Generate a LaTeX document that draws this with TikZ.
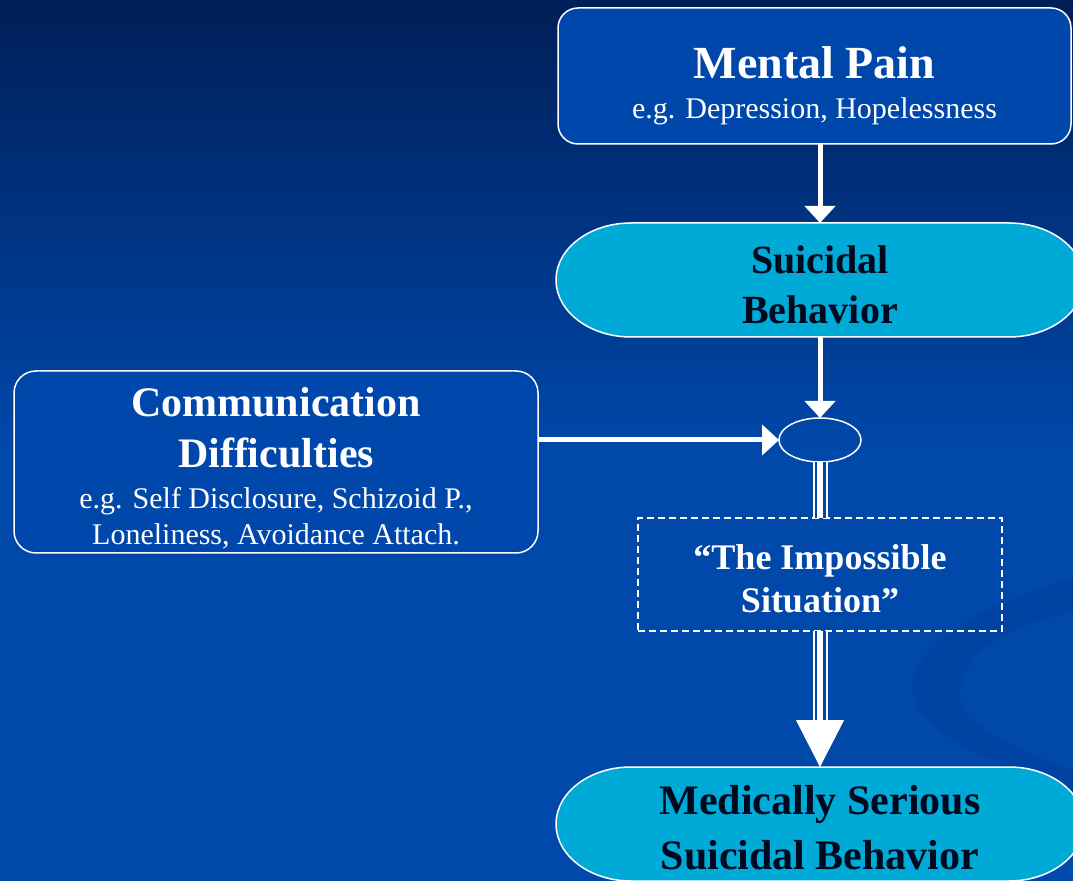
\documentclass[tikz,border=0pt]{standalone}
\usepackage{fontspec}
\setmainfont{Liberation Serif}
\usetikzlibrary{arrows.meta,shapes.geometric,backgrounds}

\definecolor{bgtop}{RGB}{0,30,88}
\definecolor{bgbot}{RGB}{0,72,170}
\definecolor{boxblue}{RGB}{0,71,171}
\definecolor{ovalcyan}{RGB}{0,170,214}
\definecolor{swirl}{RGB}{0,60,150}
\definecolor{ink}{RGB}{0,8,30}

\tikzset{
  box/.style={rectangle, draw=white, line width=1.5pt, fill=boxblue, text=white, align=center, inner sep=0pt, outer sep=0pt},
  oval/.style={rectangle, minimum width=528pt, minimum height=114pt, text=ink, align=center, inner sep=0pt, outer sep=0pt},
  ovalline/.style={draw=white, line width=1.5pt, fill=ovalcyan},
  dashbox/.style={rectangle, draw=white, line width=1.5pt, dash pattern=on 7pt off 4pt, text=white, align=center, minimum width=364pt, minimum height=113pt, inner sep=0pt, outer sep=0pt},
  arr/.style={draw=white, line width=5pt, -{Triangle[length=17pt,width=30pt]}},
  triple/.style={draw=white, line width=15pt, postaction={draw=boxblue, line width=11pt}, postaction={draw=white, line width=6pt}},
  bigarr/.style={draw=white, line width=1pt, -{Triangle[length=47pt,width=48pt]}}
}

\begin{document}
\begin{tikzpicture}[x=1pt,y=1pt]

	\useasboundingbox (0,0) rectangle (1073,881);
	
	% background
	\begin{scope}[on background layer]
		\shade[top color=bgtop, bottom color=bgbot] (0,431) rectangle (1073,881);
		\fill[bgbot] (0,0) rectangle (1073,431);
		\fill[swirl, opacity=0.35] (1073,303) .. controls (960,271) and (900,221) .. (915,181) .. controls (930,141) and (1000,116) .. (1073,91) -- (1073,111) .. controls (1000,136) and (955,161) .. (960,191) .. controls (965,231) and (1010,256) .. (1073,269) -- cycle;
	\end{scope}
	
	\node[box, rounded corners=20pt, minimum width=513pt, minimum height=136pt, font=\fontsize{30}{40}\selectfont] (pain) at (814.5,805) {\rule{0pt}{51pt}{\fontsize{46}{40}\selectfont\bfseries Mental Pain}\\e.g. Depression, Hopelessness};
	\node[oval, font=\fontsize{40}{50}\selectfont\bfseries] (sb) at (820,601) {\rule{0pt}{37pt}Suicidal\\Behavior};
	\node[ellipse, draw=white, line width=1.5pt, minimum width=82pt, minimum height=44pt, inner sep=0pt, outer sep=0pt] (ell) at (820,441) {};
	\node[box, rounded corners=22pt, minimum width=524pt, minimum height=182pt, font=\fontsize{30}{36}\selectfont] (comm) at (276,419) {\rule{0pt}{41pt}{\fontsize{42}{36}\selectfont\bfseries Communication}\\[15pt]{\fontsize{42}{36}\selectfont\bfseries Difficulties}\\[5pt]e.g. Self Disclosure, Schizoid P.,\\Loneliness, Avoidance Attach.};
	\node[dashbox, font=\fontsize{36}{43}\selectfont\bfseries] (imp) at (820,306.5) {\rule{0pt}{33pt}“The Impossible\\Situation”};
	\node[oval, font=\fontsize{42}{55}\selectfont\bfseries] (ms) at (820,57) {\rule{0pt}{37pt}Medically Serious\\Suicidal Behavior};
	
	\begin{scope}[on background layer]
		\draw[ovalline] ([xshift=75pt]sb.north west) -- ([xshift=-75pt]sb.north east) arc[start angle=90, end angle=-90, x radius=75, y radius=57] -- ([xshift=75pt]sb.south west) arc[start angle=270, end angle=90, x radius=75, y radius=57] -- cycle;
		\draw[ovalline] ([xshift=75pt]ms.north west) -- ([xshift=-75pt]ms.north east) arc[start angle=90, end angle=-90, x radius=75, y radius=57] -- ([xshift=75pt]ms.south west) arc[start angle=270, end angle=90, x radius=75, y radius=57] -- cycle;
	\end{scope}
	
	\draw[arr] (sb.north |- pain.south) -- (sb.north);
	\draw[arr] (sb.south) -- (ell.north);
	\draw[arr] (comm.east |- ell.west) -- (ell.west);
	
	\draw[triple] (ell.south) -- (imp.north);
	\draw[triple] (imp.south) -- ([yshift=47pt]ms.north);
	\draw[bigarr] ([yshift=48pt]ms.north) -- (ms.north);
	
\end{tikzpicture}
\end{document}
